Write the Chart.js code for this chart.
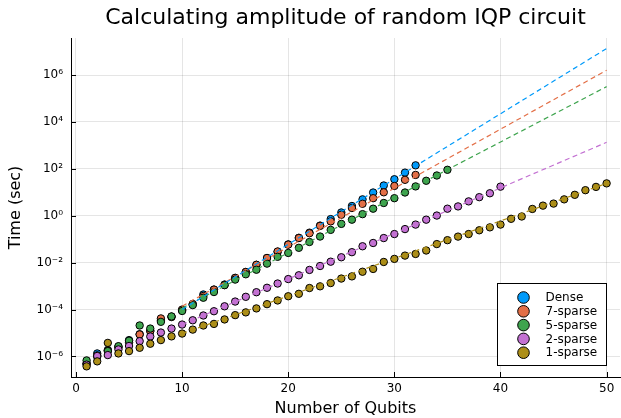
<!DOCTYPE html>
<html>
<head>
<meta charset="utf-8">
<script src="https://cdn.jsdelivr.net/npm/chart.js@4"></script>
<style>
  html, body { margin: 0; padding: 0; background: #fff; }
  #wrap { width: 621px; height: 418px; }
</style>
</head>
<body>
<div id="wrap"><canvas id="timingChart" width="621" height="418"></canvas></div>
<script>
// Measured run times (sec), one entry per qubit count starting at 1
const seriesLabels = ["Dense", "7-sparse", "5-sparse", "2-sparse", "1-sparse"];
const seriesColors = ["#009AFA", "#E36F47", "#3EA44E", "#C371D2", "#AC8E18"];

const denseTimes = [5.0e-7, 1.35e-6, 1.9e-6, 2.6e-6, 5.0e-6, 8.9e-6, 1.26e-5, 3.5e-5, 5.0e-5, 9.3e-5,
    1.66e-4, 4.4e-4, 7.1e-4, 1.17e-3, 2.24e-3, 4.0e-3, 8.1e-3, 1.58e-2, 2.9e-2, 6.0e-2,
    0.115, 0.19, 0.38, 0.72, 1.38, 2.6, 5.0, 9.8, 19.5, 36, 69, 141];
const sparse7Times = [5.0e-7, 1.12e-6, 1.78e-6, 2.4e-6, 4.0e-6, 8.7e-6, 1.2e-5, 4.2e-5, 4.8e-5, 1.0e-4,
    1.74e-4, 3.8e-4, 7.1e-4, 1.12e-3, 2.24e-3, 4.0e-3, 8.1e-3, 1.58e-2, 3.0e-2, 5.9e-2,
    0.112, 0.18, 0.37, 0.575, 1.1, 2.14, 3.24, 5.6, 10, 18.6, 34, 55];
const sparse5Times = [6.8e-7, 9.8e-7, 1.7e-6, 2.75e-6, 4.7e-6, 2.1e-5, 1.55e-5, 3.0e-5, 5.1e-5, 8.7e-5,
    1.55e-4, 3.2e-4, 5.6e-4, 1.1e-3, 1.9e-3, 3.2e-3, 5.0e-3, 9.1e-3, 1.78e-2, 2.6e-2,
    4.3e-2, 7.6e-2, 0.13, 0.25, 0.45, 0.68, 1.17, 2.0, 3.5, 5.6, 9.8, 17.8, 31, 52, 91];
const sparse2Times = [4.5e-7, 1.05e-6, 1.15e-6, 2.0e-6, 2.8e-6, 4.5e-6, 7.1e-6, 1.05e-5, 1.55e-5, 2.3e-5,
    3.5e-5, 5.6e-5, 8.5e-5, 1.38e-4, 2.2e-4, 3.5e-4, 5.5e-4, 8.5e-4, 1.29e-3, 2.0e-3,
    2.9e-3, 4.9e-3, 7.2e-3, 1.1e-2, 1.7e-2, 2.8e-2, 5.0e-2, 6.9e-2, 0.112, 0.166,
    0.27, 0.42, 0.68, 1.02, 2.0, 2.5, 4.1, 6.2, 9.1, 17.4];
const sparse1Times = [3.8e-7, 6.2e-7, 3.8e-6, 1.35e-6, 1.7e-6, 2.35e-6, 3.5e-6, 5.0e-6, 7.2e-6, 9.5e-6,
    1.4e-5, 2.1e-5, 2.45e-5, 3.8e-5, 5.8e-5, 7.6e-5, 1.12e-4, 1.7e-4, 2.45e-4, 3.7e-4,
    4.7e-4, 8.3e-4, 9.8e-4, 1.35e-3, 2.1e-3, 2.6e-3, 4.1e-3, 5.4e-3, 1.07e-2, 1.45e-2,
    2.0e-2, 2.35e-2, 3.3e-2, 6.2e-2, 9.1e-2, 0.129, 0.166, 0.24, 0.32, 0.42,
    0.74, 0.93, 1.95, 2.7, 3.3, 5.0, 7.8, 12.3, 17, 24];

// Fitted trend lines (dashed), endpoints at these qubit counts
const fitQubits = [10, 50];
const denseFit = [1.0e-4, 1.35e7];
const sparse7Fit = [1.4e-4, 1.6e6];
const sparse5Fit = [1.15e-4, 3.2e5];
const sparse2Fit = [2.3e-5, 1350];
const sparse1Fit = [9.5e-6, 24];

const xTicks = [0, 10, 20, 30, 40, 50];
const yTicks = [1e-6, 1e-4, 1e-2, 1e0, 1e2, 1e4, 1e6];

const allTimes = [denseTimes, sparse7Times, sparse5Times, sparse2Times, sparse1Times];
const allFits = [denseFit, sparse7Fit, sparse5Fit, sparse2Fit, sparse1Fit];

const supDigits = { "0": "\u2070", "1": "\u00B9", "2": "\u00B2", "3": "\u00B3", "4": "\u2074",
    "5": "\u2075", "6": "\u2076", "7": "\u2077", "8": "\u2078", "9": "\u2079", "-": "\u207B" };

function powerLabel(v) {
    let exp = Math.round(Math.log10(v)).toString();
    return "10" + exp.split("").map(c => supDigits[c]).join("");
}

let datasets = [];

// fit lines sit on top of the markers
allFits.forEach((fit, i) => {
    datasets.push({
        type: "line",
        label: "",
        data: fitQubits.map((q, j) => ({ x: q, y: fit[j] })),
        borderColor: seriesColors[i],
        borderWidth: 1.2,
        borderDash: [5, 3.5],
        pointRadius: 0,
        fill: false,
        order: 1 + i
    });
});

allTimes.forEach((times, i) => {
    datasets.push({
        type: "scatter",
        label: seriesLabels[i],
        data: times.map((t, j) => ({ x: j + 1, y: t })),
        backgroundColor: seriesColors[i],
        borderColor: "#000",
        borderWidth: 1,
        pointRadius: 3.7,
        pointHoverRadius: 3.7,
        order: 10 - i
    });
});

// small inward tick marks like the original plot
const innerTicks = {
    id: "innerTicks",
    afterDraw(chart) {
        let ctx = chart.ctx;
        let area = chart.chartArea;
        let xs = chart.scales.x, ys = chart.scales.y;
        ctx.save();
        ctx.strokeStyle = "#000";
        ctx.lineWidth = 1;
        ctx.beginPath();
        xTicks.forEach(v => {
            let px = Math.round(xs.getPixelForValue(v)) + 0.5;
            ctx.moveTo(px, area.bottom);
            ctx.lineTo(px, area.bottom - 5);
        });
        yTicks.forEach(v => {
            let py = Math.round(ys.getPixelForValue(v)) + 0.5;
            ctx.moveTo(area.left, py);
            ctx.lineTo(area.left + 5, py);
        });
        ctx.stroke();
        ctx.restore();
    }
};

// legend box in the bottom right corner of the plot area
const cornerLegend = {
    id: "cornerLegend",
    afterDraw(chart) {
        let ctx = chart.ctx;
        let area = chart.chartArea;
        let w = 109, h = 82;
        let left = Math.round(area.right - 14 - w) + 0.5;
        let top = Math.round(area.bottom - 12 - h) + 0.5;
        ctx.save();
        ctx.fillStyle = "#fff";
        ctx.fillRect(left, top, w, h);
        ctx.strokeStyle = "#000";
        ctx.lineWidth = 1;
        ctx.strokeRect(left, top, w, h);
        ctx.font = "12px 'DejaVu Sans'";
        ctx.textBaseline = "middle";
        ctx.textAlign = "left";
        seriesLabels.forEach((label, i) => {
            let cy = top + 14 + i * 13.8;
            ctx.beginPath();
            ctx.arc(left + 26, cy, 5.8, 0, Math.PI * 2);
            ctx.fillStyle = seriesColors[i];
            ctx.fill();
            ctx.strokeStyle = "#000";
            ctx.stroke();
            ctx.fillStyle = "#000";
            ctx.fillText(label, left + 48, cy + 0.5);
        });
        ctx.restore();
    }
};

Chart.defaults.font.family = "'DejaVu Sans'";
Chart.defaults.color = "#000";

let ctxTiming = document.getElementById("timingChart").getContext("2d");

window.timingChart = new Chart(ctxTiming, {
    data: { datasets: datasets },
    options: {
        responsive: false,
        animation: false,
        devicePixelRatio: 1,
        layout: { autoPadding: false, padding: { left: 0, right: 1, top: 0, bottom: 0 } },
        plugins: {
            legend: { display: false },
            tooltip: { enabled: false },
            title: {
                display: true,
                text: "Calculating amplitude of random IQP circuit",
                fullSize: false,
                font: { size: 22, weight: "normal" },
                color: "#000",
                padding: { top: 5, bottom: 6.6 }
            }
        },
        scales: {
            x: {
                type: "linear",
                min: -0.47,
                max: 51.26,
                afterBuildTicks: scale => { scale.ticks = xTicks.map(v => ({ value: v })); },
                afterFit: scale => {
                    scale.height = 41;
                    scale.paddingLeft = 0;
                    scale.paddingRight = 0;
                },
                ticks: {
                    font: { size: 12 },
                    padding: 5,
                    maxRotation: 0,
                    callback: v => v.toString()
                },
                grid: { color: "rgba(0,0,0,0.1)", drawTicks: false },
                border: { color: "#000", width: 1 },
                title: {
                    display: true,
                    text: "Number of Qubits",
                    font: { size: 16 },
                    padding: { top: 0, bottom: 0 }
                }
            },
            y: {
                type: "logarithmic",
                min: 1.336e-7,
                max: 3.78e7,
                afterBuildTicks: scale => { scale.ticks = yTicks.map(v => ({ value: v })); },
                afterFit: scale => {
                    scale.width = 71;
                    scale.paddingTop = 0;
                    scale.paddingBottom = 0;
                },
                ticks: {
                    font: { size: 12 },
                    padding: 8,
                    callback: v => powerLabel(v)
                },
                grid: { color: "rgba(0,0,0,0.1)", drawTicks: false },
                border: { color: "#000", width: 1 },
                title: {
                    display: true,
                    text: "Time (sec)",
                    font: { size: 16 },
                    padding: { top: 6, bottom: 0 }
                }
            }
        }
    },
    plugins: [innerTicks, cornerLegend]
});
</script>
</body>
</html>
